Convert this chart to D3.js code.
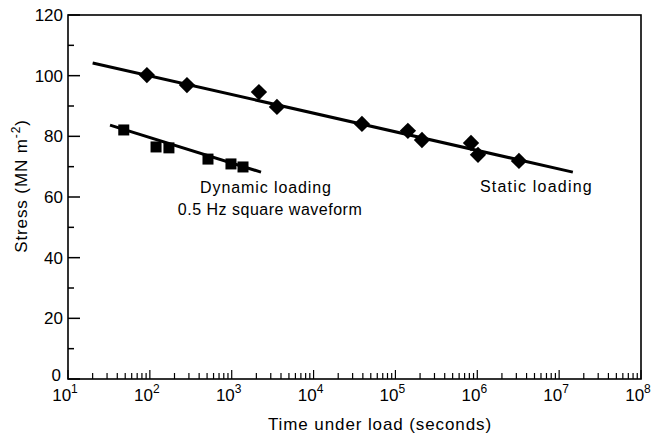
<!DOCTYPE html>
<html>
<head>
<meta charset="utf-8">
<script src="https://cdn.jsdelivr.net/npm/d3@7"></script>
<style>
  body { margin: 0; background: #fff; }
  text { font-family: "Liberation Sans", Arial, sans-serif; fill: #000; }
</style>
</head>
<body>
<svg id="chart" width="651" height="435"></svg>
<script>
(function () {

    // static loading (diamonds) and dynamic loading (squares)
    var staticTime = [92, 284, 2150, 3570, 39000, 142000, 211000, 838000, 1020000, 3230000],
        staticStress = [100.2, 96.9, 94.6, 89.7, 84.1, 81.8, 78.8, 77.8, 73.9, 71.9],
        staticFitTime = [20, 14700000],
        staticFitStress = [104.2, 68.2],
        dynamicTime = [48, 119, 171, 513, 979, 1374],
        dynamicStress = [82.1, 76.5, 76.2, 72.5, 70.9, 69.9],
        dynamicFitTime = [32.6, 2280],
        dynamicFitStress = [83.7, 68.2],
        yTicks = [0, 20, 40, 60, 80, 100, 120],
        xDecades = [1, 2, 3, 4, 5, 6, 7, 8];

    var svg = d3.select('#chart'),
        left = 68, right = 641, top = 15, bottom = 379;

    var x = d3.scaleLog().domain([10, 1e8]).range([left, right]),
        y = d3.scaleLinear().domain([0, 120]).range([bottom, top]);

    // frame
    svg.append("rect")
        .attr("x", left).attr("y", top)
        .attr("width", right - left).attr("height", bottom - top)
        .attr("fill", "none").attr("stroke", "#000").attr("stroke-width", 1.6);

    // y ticks: majors every 20, minors every 10, pointing inward
    var yMinor = d3.range(10, 120, 20);
    svg.append("g").selectAll("line").data(yTicks.concat(yMinor)).join("line")
        .attr("x1", left).attr("x2", function (d) { return left + (d % 20 === 0 ? 12 : 6); })
        .attr("y1", y).attr("y2", y)
        .attr("stroke", "#000").attr("stroke-width", 1.5);

    svg.append("g").selectAll("text").data(yTicks).join("text")
        .attr("x", function (d) { return d === 0 ? left - 7 : left - 5; })
        .attr("y", function (d) { return d === 0 ? y(d) + 2 : y(d) + 6; })
        .attr("text-anchor", "end").attr("font-size", 17)
        .text(function (d) { return d; });

    // x ticks: log minors 2..9 in each decade
    var xMinor = [];
    xDecades.slice(0, -1).forEach(function (p) {
        for (var k = 2; k <= 9; k++) xMinor.push(k * Math.pow(10, p));
    });
    svg.append("g").selectAll("line").data(xMinor).join("line")
        .attr("x1", x).attr("x2", x)
        .attr("y1", bottom).attr("y2", bottom - 6)
        .attr("stroke", "#000").attr("stroke-width", 1.2);
    svg.append("g").selectAll("line").data(xDecades).join("line")
        .attr("x1", function (d) { return x(Math.pow(10, d)); })
        .attr("x2", function (d) { return x(Math.pow(10, d)); })
        .attr("y1", bottom).attr("y2", bottom - 9)
        .attr("stroke", "#000").attr("stroke-width", 1.2);

    var xl = svg.append("g").selectAll("text").data(xDecades).join("text")
        .attr("x", function (d) { return x(Math.pow(10, d)) - 3; })
        .attr("y", bottom + 22)
        .attr("text-anchor", "middle").attr("font-size", 17);
    xl.append("tspan").text("10");
    xl.append("tspan").attr("dy", -8).attr("font-size", 12).text(function (d) { return d; });

    // axis titles
    svg.append("text")
        .attr("x", 380).attr("y", 430)
        .attr("text-anchor", "middle").attr("font-size", 17).attr("letter-spacing", 0.9)
        .text("Time under load (seconds)");

    var yt = svg.append("text")
        .attr("transform", "translate(27," + 186 + ") rotate(-90)")
        .attr("text-anchor", "middle").attr("font-size", 17).attr("letter-spacing", 0.9);
    yt.append("tspan").text("Stress (MN m");
    yt.append("tspan").attr("dy", -7).attr("font-size", 12).text("-2");
    yt.append("tspan").attr("dy", 7).text(")");

    // fitted lines
    var line = d3.line()
        .x(function (d) { return x(d[0]); })
        .y(function (d) { return y(d[1]); });

    svg.append("path")
        .datum(d3.zip(staticFitTime, staticFitStress))
        .attr("d", line).attr("fill", "none")
        .attr("stroke", "#000").attr("stroke-width", 3);
    svg.append("path")
        .datum(d3.zip(dynamicFitTime, dynamicFitStress))
        .attr("d", line).attr("fill", "none")
        .attr("stroke", "#000").attr("stroke-width", 3);

    // markers
    svg.append("g").selectAll("path").data(d3.zip(staticTime, staticStress)).join("path")
        .attr("transform", function (d) { return "translate(" + x(d[0]) + "," + y(d[1]) + ")"; })
        .attr("d", d3.symbol().type(d3.symbolDiamond2).size(170))
        .attr("fill", "#000");
    svg.append("g").selectAll("rect").data(d3.zip(dynamicTime, dynamicStress)).join("rect")
        .attr("x", function (d) { return x(d[0]) - 5.5; })
        .attr("y", function (d) { return y(d[1]) - 5.5; })
        .attr("width", 11).attr("height", 11)
        .attr("fill", "#000");

    // labels
    svg.append("text").attr("x", 480).attr("y", 192)
        .attr("font-size", 16).attr("letter-spacing", 1.2).text("Static loading");
    svg.append("text").attr("x", 266).attr("y", 193)
        .attr("text-anchor", "middle").attr("font-size", 16).attr("letter-spacing", 0.9)
        .text("Dynamic loading");
    svg.append("text").attr("x", 270).attr("y", 215)
        .attr("text-anchor", "middle").attr("font-size", 16).attr("letter-spacing", 0.5)
        .text("0.5 Hz square waveform");

}());
</script>
</body>
</html>
